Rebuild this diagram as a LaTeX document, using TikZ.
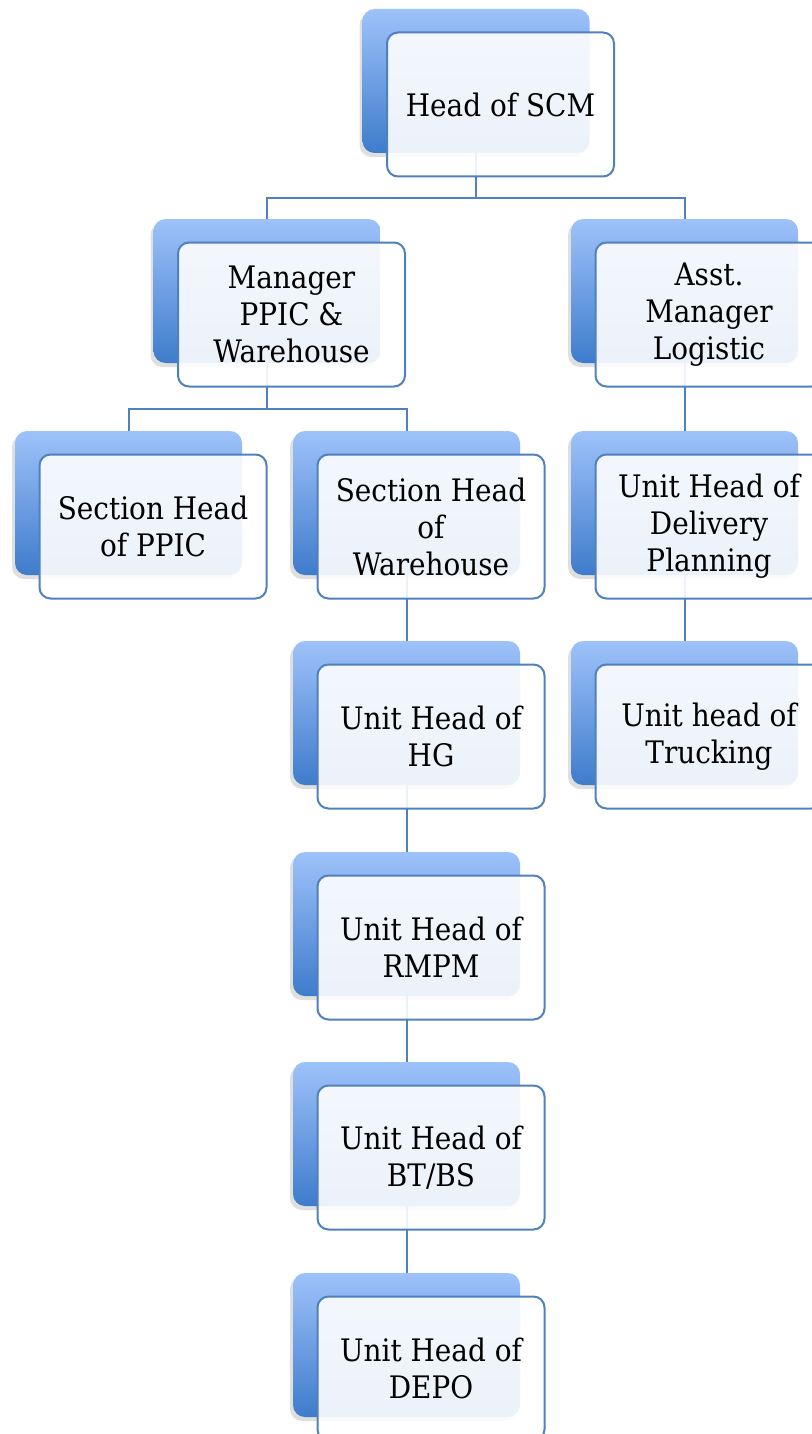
\documentclass[tikz,border=0pt]{standalone}
\usepackage{fontspec}
\setmainfont{DejaVu Serif}[FakeStretch = 0.9]
\usetikzlibrary{shadows}

\definecolor{backtop}{RGB}{158,194,250}
\definecolor{backbot}{RGB}{62,124,203}
\definecolor{frontline}{RGB}{79,129,189}

\tikzset{
	back/.style = {rounded corners = 12pt, minimum width = 227pt, minimum height = 144pt, top color = backtop, bottom color = backbot, drop shadow = {shadow xshift = -3pt, shadow yshift = -4pt, opacity = 0.25}},
	front/.style = {draw = frontline, line width = 2pt, rounded corners = 11pt, minimum width = 227pt, minimum height = 144pt, fill = white, fill opacity = 0.9, text opacity = 1, align = center, font = \fontsize{31}{37}\selectfont, shift = {(24.5, 23.5)}},
	conn/.style = {draw = frontline, line width = 2pt}
}

\begin{document}
\begin{tikzpicture}[x = 1pt, y = -1pt]
					\useasboundingbox (0, 0) rectangle (811, 1434);

					\coordinate (bar1) at (476, 198);
					\coordinate (bar2) at (267, 409);

					\node [back] (scmb) at (476, 81) {};
					\node [back] (mgrb) at (267, 291) {};
					\node [back] (asstb) at (684.5, 291) {};
					\node [back] (ppicb) at (128.5, 503) {};
					\node [back] (whb) at (406.5, 503) {};
					\node [back] (dlvb) at (684.5, 503) {};
					\node [back] (hgb) at (406.5, 713) {};
					\node [back] (trkb) at (684.5, 713) {};
					\node [back] (rmpmb) at (406.5, 924) {};
					\node [back] (btbsb) at (406.5, 1134) {};
					\node [back] (depob) at (406.5, 1345) {};

					\draw [conn] (scmb.south) -- (bar1);
					\draw [conn] (mgrb.north) |- (bar1) -| (asstb.north);
					\draw [conn] (mgrb.south) -- (bar2);
					\draw [conn] (ppicb.north) |- (bar2) -| (whb.north);
					\draw [conn] (asstb.south) -- (dlvb.north);
					\draw [conn] (dlvb.south) -- (trkb.north);
					\draw [conn] (whb.south) -- (hgb.north);
					\draw [conn] (hgb.south) -- (rmpmb.north);
					\draw [conn] (rmpmb.south) -- (btbsb.north);
					\draw [conn] (btbsb.south) -- (depob.north);

					\node [front] (scm) at (scmb) {Head of SCM};
					\node [front] (mgr) at (mgrb) {Manager\\PPIC \&\\Warehouse};
					\node [front] (asst) at (asstb) {Asst.\\Manager\\Logistic};
					\node [front] (ppic) at (ppicb) {Section Head\\of PPIC};
					\node [front] (wh) at (whb) {Section Head\\of\\Warehouse};
					\node [front] (dlv) at (dlvb) {Unit Head of\\Delivery\\Planning};
					\node [front] (hg) at (hgb) {Unit Head of\\HG};
					\node [front] (trk) at (trkb) {Unit head of\\Trucking};
					\node [front] (rmpm) at (rmpmb) {Unit Head of\\RMPM};
					\node [front] (btbs) at (btbsb) {Unit Head of\\BT/BS};
					\node [front] (depo) at (depob) {Unit Head of\\DEPO};
				\end{tikzpicture}
\end{document}
